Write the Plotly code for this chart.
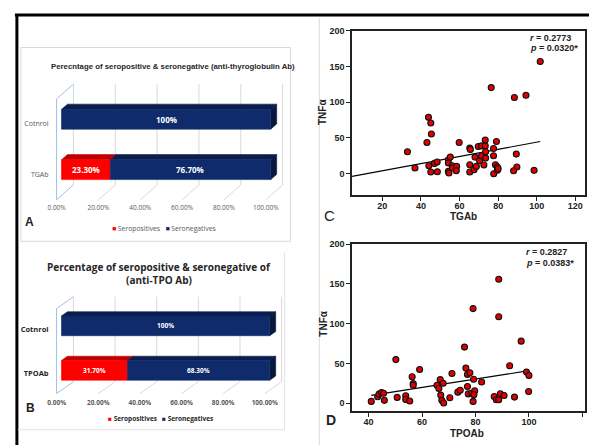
import plotly.graph_objects as go

W, H = 589, 445

# ---------------- data ----------------
catsA = ["TGAb", "Cotnrol"]
seroposA = [23.3, 0.0]
seronegA = [76.7, 100.0]

catsB = ["TPOAb", "Cotnrol"]
seroposB = [31.7, 0.0]
seronegB = [68.3, 100.0]

pct_ticks = [0, 20, 40, 60, 80, 100]
pct_ticktext = ["0.00%", "20.00%", "40.00%", "60.00%", "80.00%", "100.00%"]
legend_names = ["Seropositives", "Seronegatives"]

tgab = [33.0, 36.9, 43.1, 43.9, 45.1, 45.4, 44.1, 45.1, 47.0, 48.4, 48.5, 54.2, 55.2, 54.2,
        54.2, 54.5, 56.2, 56.4, 58.5, 58.3, 59.8, 65.3, 65.6, 65.3, 65.3, 68.0, 67.5, 68.7,
        69.7, 70.4, 71.4, 71.4, 72.6, 73.3, 73.3, 73.5, 73.5, 76.4, 77.6, 77.6, 77.7, 79.1,
        78.6, 79.6, 79.6, 80.0, 88.4, 94.4, 89.4, 89.7, 88.0, 98.6, 101.8]
tnf_c = [30.6, 7.9, 43.6, 78.8, 70.9, 55.6, 11.1, 2.4, 14.4, 16.3, 2.8, 19.5, 23.2, 14.9,
         3.2, 1.0, 11.1, 8.0, 10.2, 4.2, 43.6, 35.7, 34.0, 12.5, 2.3, 23.2, 5.6, 10.2,
         38.0, 18.1, 25.0, 38.9, 12.1, 38.9, 47.2, 30.6, 21.8, 120.4, 35.2, 25.0, 0.0, 45.0,
         12.5, 9.3, 4.7, 7.0, 106.5, 109.7, 27.4, 9.3, 4.2, 4.7, 157.0]

tpoab = [41.0, 43.4, 43.9, 44.8, 45.6, 45.9, 50.2, 50.7, 53.9, 53.9, 55.4, 56.3, 56.7, 56.7,
         59.1, 65.6, 66.3, 66.8, 67.0, 67.4, 67.9, 68.1, 70.4, 71.2, 73.4, 74.3, 75.9, 76.4,
         77.0, 77.9, 77.0, 77.3, 78.6, 79.3, 79.1, 79.7, 79.4, 79.1, 82.3, 88.7, 88.7, 87.0,
         87.8, 89.3, 88.7, 90.7, 94.6, 92.8, 97.1, 99.1, 100.0, 99.9]
tnf_d = [2.1, 8.0, 11.2, 13.3, 12.4, 3.4, 54.7, 7.1, 9.2, 4.6, 2.5, 33.2, 24.5, 22.5,
         42.3, 22.4, 18.3, 29.5, 10.0, 3.4, 24.9, 0.0, 6.7, 37.3, 13.7, 16.2, 70.5, 44.0,
         36.1, 38.2, 20.8, 11.5, 12.4, 29.9, 2.1, 15.4, 10.4, 119.0, 26.6, 156.0, 108.7, 8.3,
         4.2, 11.7, 4.2, 9.6, 7.5, 46.9, 78.0, 39.0, 34.8, 14.6]

# fitted lines: slope, intercept, x-extent
fitC = [0.50, -5.9]
fitC_x = [4.3, 101.8]
fitD = [0.528, -12.05]
fitD_x = [41.0, 100.0]

statsC = ["0.2773", "0.0320*"]
statsD = ["0.2827", "0.0383*"]

# ---------------- helpers ----------------
def X(px):
    return px / W


def Y(py):
    return 1 - py / H


RED_F, RED_T = "#FF0000", "#C00000"
NAVY_F, NAVY_T, NAVY_S = "#0F2B6B", "#0A1D4C", "#08173C"
GRID = "#D9D9D9"
WALL = "#9DC3E6"

fig = go.Figure()
annotations = []
shapes = []


def line_shape(x0, y0, x1, y1, color, width):
    shapes.append(dict(type="line", xref="paper", yref="paper", x0=X(x0), y0=Y(y0),
                       x1=X(x1), y1=Y(y1), line=dict(color=color, width=width)))


def bar_panel(cfg, cats, pos_vals, neg_vals):
    xa, ya = cfg["xa"], cfg["ya"]
    sx, sy, kd = cfg["sx"], cfg["sy"], cfg["kd"]

    def P(v, p, d):
        return v + d / sx, p + d * kd / sy

    def poly(pts, color):
        xs = [q[0] for q in pts] + [pts[0][0]]
        ys = [q[1] for q in pts] + [pts[0][1]]
        fig.add_trace(go.Scatter(x=xs, y=ys, mode="lines", fill="toself", fillcolor=color,
                                 line=dict(width=0.6, color=color), hoverinfo="skip",
                                 xaxis=xa, yaxis=ya))

    def seg(pts, color, width):
        fig.add_trace(go.Scatter(x=[q[0] for q in pts], y=[q[1] for q in pts], mode="lines",
                                 line=dict(width=width, color=color), hoverinfo="skip",
                                 xaxis=xa, yaxis=ya))

    top, bot, D = cfg["wall_top"], cfg["wall_bot"], cfg["depth"]
    for v in pct_ticks:
        seg([P(v, bot, D), P(v, top, D)], GRID, 1)
        if v > 0:
            seg([P(v, bot, 0), P(v, bot, D)], GRID, 1)
    seg([P(0, bot, D), P(0, bot, 0), P(0, top, 0), P(0, top, D)], WALL, 1)

    d0, d1, h = cfg["d0"], cfg["d1"], cfg["half"] / sy
    for i, cat in enumerate(cats):
        p = i
        segs = [(0, pos_vals[i], RED_F, RED_T), (pos_vals[i], pos_vals[i] + neg_vals[i], NAVY_F, NAVY_T)]
        segs = [s for s in segs if s[1] > s[0]]
        for j, (s, e, cf, ct) in enumerate(segs):
            poly([P(s, p + h, d0), P(e, p + h, d0), P(e, p + h, d1), P(s, p + h, d1)], ct)
            if j == len(segs) - 1:
                poly([P(e, p - h, d0), P(e, p + h, d0), P(e, p + h, d1), P(e, p - h, d1)], NAVY_S)
            poly([P(s, p - h, d0), P(e, p - h, d0), P(e, p + h, d0), P(s, p + h, d0)], cf)
            val = e - s
            lab = "100%" if val == 100 else f"{val:.2f}%"
            cx, cy = P((s + e) / 2, p, d0)
            annotations.append(dict(x=cx, y=cy, xref=xa, yref=ya, text=lab, showarrow=False,
                                    font=dict(family="Open Sans, Liberation Sans, sans-serif",
                                              size=cfg["barfont"], color="white", weight="bold")))

    xr = [(cfg["dom_x"][0] - cfg["x0px"]) / sx, (cfg["dom_x"][1] - cfg["x0px"]) / sx]
    yr = [(cfg["cat0py"] - cfg["dom_y"][1]) / sy, (cfg["cat0py"] - cfg["dom_y"][0]) / sy]
    axx = "xaxis" + xa[1:]
    axy = "yaxis" + ya[1:]
    fig.update_layout(**{
        axx: dict(domain=[X(cfg["dom_x"][0]), X(cfg["dom_x"][1])], range=xr, anchor=ya,
                  showgrid=False, zeroline=False, showline=False, ticks="",
                  tickvals=pct_ticks, ticktext=pct_ticktext, ticklabelstandoff=cfg["xstand"],
                  tickfont=dict(family="Open Sans, Liberation Sans, sans-serif", size=6.5,
                                color="#595959", weight=cfg["tickweight"]), fixedrange=True),
        axy: dict(domain=[Y(cfg["dom_y"][1]), Y(cfg["dom_y"][0])], range=yr, anchor=xa,
                  showgrid=False, zeroline=False, showline=False, ticks="",
                  tickvals=list(range(len(cats))), ticktext=cats, ticklabelstandoff=3,
                  tickfont=dict(family="Open Sans, Liberation Sans, sans-serif",
                                size=cfg["catfont"], color=cfg["catcolor"],
                                weight=cfg["tickweight"]), fixedrange=True),
    })


cfgA = dict(xa="x3", ya="y3", x0px=52, sx=2.11, cat0py=171, sy=51, kd=15 / 17, depth=17,
            wall_top=(171 - 95) / 51, wall_bot=(171 - 197) / 51, d0=5, d1=11, half=10,
            dom_x=[48, 290], dom_y=[75, 199], barfont=8, catfont=7, catcolor="#595959",
            tickweight="normal", xstand=1)
cfgB = dict(xa="x4", ya="y4", x0px=52, sx=2.10, cat0py=373, sy=45, kd=12 / 17, depth=17,
            wall_top=(373 - 307) / 45, wall_bot=(373 - 393) / 45, d0=5, d1=11, half=10,
            dom_x=[48, 290], dom_y=[285, 396], barfont=6.5, catfont=7.5, catcolor="#262626",
            tickweight="bold", xstand=1)

bar_panel(cfgA, catsA, seroposA, seronegA)
bar_panel(cfgB, catsB, seroposB, seronegB)


# ---------------- scatter panels ----------------
def scatter_panel(xa, ya, xs, ys, fit, fit_x, dom_x, dom_y, xr, yr, xticks):
    fig.add_trace(go.Scatter(x=fit_x, y=[fit[0] * v + fit[1] for v in fit_x], mode="lines",
                             line=dict(color="black", width=1.2), hoverinfo="skip",
                             xaxis=xa, yaxis=ya))
    fig.add_trace(go.Scatter(x=xs, y=ys, mode="markers",
                             marker=dict(size=6, color="#E00000",
                                         line=dict(color="#111", width=1.1)),
                             xaxis=xa, yaxis=ya))
    tf = dict(family="Liberation Sans, Arial, sans-serif", size=9, color="#222", weight="bold")
    axx = "xaxis" + (xa[1:] if len(xa) > 1 else "")
    axy = "yaxis" + (ya[1:] if len(ya) > 1 else "")
    fig.update_layout(**{
        axx: dict(domain=[X(dom_x[0]), X(dom_x[1])], range=xr, anchor=ya, showgrid=False,
                  zeroline=False, showline=True, linecolor="#222", linewidth=1.6, mirror=True,
                  ticks="outside", ticklen=4, tickwidth=1.4, tickcolor="#222",
                  ticklabelstandoff=-3,
                  tickvals=xticks, tickfont=tf, fixedrange=True),
        axy: dict(domain=[Y(dom_y[1]), Y(dom_y[0])], range=yr, anchor=xa, showgrid=False,
                  zeroline=False, showline=True, linecolor="#222", linewidth=1.6, mirror=True,
                  ticks="outside", ticklen=4, tickwidth=1.4, tickcolor="#222",
                  tickvals=[0, 50, 100, 150, 200], tickfont=tf, fixedrange=True),
    })


scatter_panel("x", "y", tgab, tnf_c, fitC, fitC_x, [350, 585], [26, 192.3], [4.3, 125],
              [-30, 200], [20, 40, 60, 80, 100, 120])
scatter_panel("x2", "y2", tpoab, tnf_d, fitD, fitD_x, [350, 585], [242, 411], [33.8, 121],
              [-10.5, 200], [40, 60, 80, 100, 120])

AR = "Liberation Sans, Arial, sans-serif"


def txt(px, py, text, size, family=AR, color="#222", weight="normal", xanchor="center",
        angle=0):
    annotations.append(dict(x=X(px), y=Y(py), xref="paper", yref="paper", text=text,
                            showarrow=False, xanchor=xanchor, yanchor="middle", textangle=angle,
                            font=dict(family=family, size=size, color=color, weight=weight)))


# scatter labels
txt(321, 108, "TNFα", 10, weight="bold", angle=-90)
txt(462, 214, "TGAb", 10, weight="bold")
txt(527, 33, f"<i>r</i> = {statsC[0]}", 9, weight="bold", xanchor="left")
txt(527, 43.5, f"<i>p</i> = {statsC[1]}", 9, weight="bold", xanchor="left")
txt(327, 213, "C", 15)

txt(321, 322, "TNFα", 10, weight="bold", angle=-90)
txt(466, 433, "TPOAb", 10, weight="bold")
txt(523, 250, f"<i>r</i> = {statsD[0]}", 9, weight="bold", xanchor="left")
txt(523, 260.5, f"<i>p</i> = {statsD[1]}", 9, weight="bold", xanchor="left")
txt(329, 420, "D", 14, weight="bold")

# bar panel titles / labels / legends
NARROW = "Liberation Sans Narrow, Liberation Sans, sans-serif"
txt(169, 62, "Perecntage of seropositive & seronegative (anti-thyroglobulin Ab)", 7.8,
    family=NARROW, color="#262626", weight="bold")
txt(25, 219, "A", 12, weight="bold")
leg = (f"<span style='color:{RED_F}'>■</span> {legend_names[0]}   "
       f"<span style='color:{NAVY_F}'>■</span> {legend_names[1]}")
txt(160, 226, leg, 6.8, family="Open Sans, sans-serif", color="#595959")

txt(155, 265, "Percentage of seropositive & seronegative of", 10,
    family="Open Sans, Liberation Sans, sans-serif", color="#262626", weight="bold")
txt(155, 278, "(anti-TPO Ab)", 10, family="Open Sans, Liberation Sans, sans-serif",
    color="#262626", weight="bold")
txt(26, 408, "B", 12, weight="bold")
txt(157, 418.5, leg, 6.5, family="Open Sans, sans-serif", color="#262626", weight="bold")

# frame decorations
line_shape(10, 10, 589, 10, "black", 3)
line_shape(12, 10, 12, 445, "black", 3)
line_shape(317, 13, 317, 445, "#DADADA", 1)
shapes.append(dict(type="rect", xref="paper", yref="paper", x0=X(16), y0=Y(239), x1=X(288),
                   y1=Y(43), line=dict(color="#D9D9D9", width=1)))
line_shape(282, 250, 282, 430, "#E3E3E3", 1)
line_shape(13, 429.5, 282, 429.5, "#E3E3E3", 1)

fig.update_layout(width=W, height=H, margin=dict(l=0, r=0, t=0, b=0), showlegend=False,
                  paper_bgcolor="white", plot_bgcolor="rgba(0,0,0,0)",
                  annotations=annotations, shapes=shapes)

fig.write_html("out.html", config={"displayModeBar": False},
               post_script="document.body.style.margin='0';")
